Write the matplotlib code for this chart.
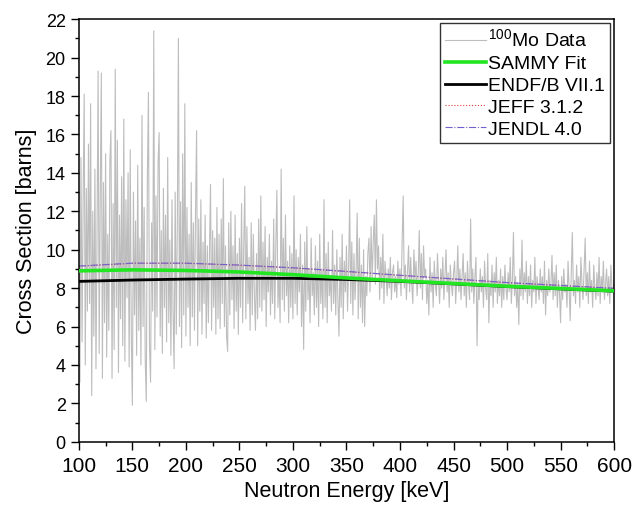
import matplotlib
matplotlib.use("Agg")
import matplotlib.pyplot as plt
import numpy as np
from matplotlib.ticker import MultipleLocator

plt.rcParams['font.family'] = ['Liberation Sans', 'DejaVu Sans']
plt.rcParams['mathtext.fontset'] = 'custom'
plt.rcParams['mathtext.rm'] = 'Liberation Sans'

data_start = 100
data_xs = [
    10.5, 3.1, 14.8, 5.2, 12.5, 18.1, 4.0, 13.2, 6.8, 15.5,
    7.2, 17.6, 2.4, 12.0, 5.5, 14.2, 3.8, 11.0, 19.3, 4.6,
    12.8, 19.2, 3.3, 13.5, 6.2, 15.0, 4.4, 10.8, 5.8, 14.6,
    16.2, 3.3, 12.4, 4.8, 19.4, 7.0, 15.7, 3.6, 11.8, 6.4,
    13.8, 5.0, 16.8, 4.2, 12.6, 7.5, 14.0, 3.9, 15.2, 5.6,
    1.9, 13.0, 6.6, 11.5, 4.5, 14.4, 5.8, 10.6, 4.0, 17.0,
    6.0, 12.2, 4.3, 2.1, 13.6, 18.2, 5.0, 3.1, 11.4, 6.8,
    21.4, 4.8, 12.8, 6.5, 14.5, 16.1, 5.5, 11.0, 4.6, 13.2,
    7.0, 11.8, 5.2, 14.8, 6.2, 10.5, 4.5, 12.6, 6.8, 3.8,
    13.0, 5.6, 11.2, 21.0, 6.0, 12.5, 4.9, 15.0, 6.6, 17.6,
    5.5, 12.2, 7.0, 10.8, 5.0, 13.5, 6.5, 11.4, 5.8, 12.0,
    16.2, 5.0, 11.6, 6.8, 12.6, 5.6, 10.4, 7.2, 11.8, 5.4,
    10.2, 6.2, 9.8, 13.4, 5.8, 11.0, 7.0, 10.6, 5.6, 12.2,
    6.4, 10.8, 5.9, 11.6, 7.2, 13.7, 6.0, 10.2, 5.5, 4.7,
    11.4, 6.6, 12.0, 7.4, 10.2, 5.9, 11.8, 6.8, 9.8, 5.6,
    10.6, 7.0, 12.4, 6.2, 10.0, 13.3, 6.4, 11.2, 7.2, 9.6,
    5.8, 11.4, 6.6, 10.8, 7.6, 5.8, 9.8, 6.4, 11.6, 7.0,
    12.8, 6.8, 10.4, 7.4, 11.2, 6.0, 9.6, 7.8, 10.8, 6.6,
    9.4, 7.2, 11.6, 6.4, 10.2, 13.1, 7.0, 8.8, 6.2, 14.2,
    7.4, 10.6, 6.8, 11.8, 7.6, 9.4, 6.2, 10.2, 7.0, 9.8,
    6.4, 12.8, 7.2, 10.0, 6.6, 9.6, 7.8, 10.8, 6.0, 9.2,
    4.8, 10.4, 6.8, 11.2, 7.4, 9.0, 6.2, 10.6, 7.6, 8.8,
    6.6, 10.2, 7.0, 9.4, 6.0, 10.8, 7.2, 9.0, 6.4, 12.6,
    7.0, 9.8, 6.2, 10.4, 7.6, 8.6, 6.8, 11.0, 7.2, 9.2,
    6.6, 10.0, 7.4, 5.5, 9.6, 7.0, 10.8, 6.4, 9.4, 7.8,
    10.2, 6.8, 9.0, 12.6, 7.2, 10.4, 6.6, 9.8, 7.4, 8.8,
    11.9, 6.4, 10.6, 7.0, 9.2, 6.2, 10.0, 6.0, 8.6, 7.6,
    9.8, 10.6, 7.8, 11.2, 8.4, 10.4, 11.8, 8.2, 12.6, 9.0,
    10.2, 7.4, 9.6, 8.0, 10.8, 7.2, 9.4, 8.6, 7.6, 9.0,
    8.0, 9.6, 7.4, 8.8, 9.2, 7.8, 8.6, 7.5, 9.4, 8.2,
    9.0, 7.6, 10.4, 12.8, 8.0, 9.2, 7.4, 8.8, 10.2, 7.8,
    9.6, 8.2, 7.2, 10.0, 8.4, 9.4, 7.6, 8.6, 11.0, 8.0,
    9.8, 7.4, 10.2, 8.6, 9.0, 7.2, 8.4, 6.6, 9.6, 7.8,
    8.8, 7.0, 9.4, 8.2, 7.6, 9.8, 8.4, 7.2, 9.0, 8.0,
    9.6, 7.4, 8.6, 10.0, 7.8, 8.8, 7.0, 9.2, 8.2, 7.6,
    8.8, 9.4, 7.2, 8.4, 10.2, 7.8, 9.0, 7.4, 8.6, 9.8,
    7.6, 8.8, 7.0, 9.4, 8.2, 7.4, 11.6, 7.8, 9.0, 7.2,
    8.6, 9.6, 5.0, 8.2, 7.4, 9.0, 7.8, 8.6, 7.0, 9.4,
    8.0, 7.4, 9.8, 6.2, 8.4, 7.6, 9.2, 7.0, 8.8, 7.8,
    9.6, 7.2, 8.4, 7.6, 9.0, 7.0, 8.6, 7.4, 9.2, 8.0,
    7.4, 8.8, 7.8, 9.6, 7.2, 8.4, 10.9, 7.6, 8.6, 7.0,
    8.2, 6.1, 9.0, 7.6, 10.5, 7.4, 8.8, 7.8, 9.4, 7.2,
    8.6, 7.6, 9.2, 7.0, 8.4, 7.8, 9.6, 7.2, 8.6, 8.0,
    7.4, 9.0, 7.8, 8.6, 7.2, 9.4, 6.6, 8.4, 7.6, 9.0,
    7.8, 8.2, 9.7, 7.4, 8.8, 7.6, 9.2, 7.0, 8.4, 7.8,
    6.2, 8.6, 7.4, 9.0, 7.8, 8.2, 7.0, 9.4, 8.0, 6.3,
    8.8, 10.9, 7.6, 8.4, 7.2, 9.2, 7.8, 8.6, 7.0, 9.6,
    8.2, 7.4, 9.0, 10.6, 7.6, 8.8, 7.2, 9.4, 7.8, 8.4,
    7.0, 9.2, 8.0, 7.4, 8.8, 7.6, 9.6, 7.2, 8.6, 7.8,
    9.4, 7.4, 8.2, 9.0, 7.6, 8.6, 7.2, 9.2, 8.0, 7.8,
    8.4,
]
data_energy = data_start + np.arange(len(data_xs))

# evaluated / fitted curves
curve_energy = [100, 150, 200, 250, 300, 350, 400, 450, 500, 550, 600]
sammy = [8.90, 8.95, 8.92, 8.84, 8.70, 8.53, 8.38, 8.24, 8.10, 7.98, 7.86]
endf = [8.35, 8.42, 8.47, 8.51, 8.51, 8.45, 8.35, 8.22, 8.08, 7.96, 7.84]
jeff = [9.14, 9.29, 9.29, 9.19, 9.05, 8.86, 8.66, 8.47, 8.28, 8.13, 7.98]
jendl = [9.15, 9.30, 9.30, 9.20, 9.06, 8.87, 8.67, 8.48, 8.29, 8.14, 7.99]

fig = plt.figure(figsize=(6.41, 5.06), dpi=100)
ax = fig.add_axes([0.123, 0.125, 0.835, 0.835])

ax.plot(data_energy, data_xs, color="#bdbdbd", lw=0.8, label=r"$^{100}$Mo Data", zorder=1)
ax.plot(curve_energy, sammy, color="#22e622", lw=2.6, label="SAMMY Fit", zorder=4)
ax.plot(curve_energy, endf, color="black", lw=2.0, label="ENDF/B VII.1", zorder=3)
ax.plot(curve_energy, jeff, color="#e04040", lw=0.8, ls=":", label="JEFF 3.1.2", zorder=2)
ax.plot(curve_energy, jendl, color="#7060d0", lw=0.8, ls="-.", label="JENDL 4.0", zorder=2)

ax.set_xlim(100, 600)
ax.set_ylim(0, 22)
ax.xaxis.set_major_locator(MultipleLocator(50))
ax.xaxis.set_minor_locator(MultipleLocator(25))
ax.yaxis.set_major_locator(MultipleLocator(2))
ax.yaxis.set_minor_locator(MultipleLocator(1))
ax.tick_params(which="both", direction="out", top=False, right=False)
ax.tick_params(which="major", length=6, width=1.0)
ax.tick_params(which="minor", length=3, width=1.0)
ax.tick_params(axis="x", labelsize=15, pad=4)
ax.tick_params(axis="y", labelsize=13)
for s in ax.spines.values():
    s.set_linewidth(1.1)

ax.set_xlabel("Neutron Energy [keV]", fontsize=15.5, labelpad=4)
ax.set_ylabel("Cross Section [barns]", fontsize=15.5, labelpad=6)

leg = ax.legend(loc="upper right", fontsize=14, frameon=True, fancybox=False,
                edgecolor="black", handlelength=2.1, handletextpad=0.15,
                borderaxespad=0.2, labelspacing=0.22, borderpad=0.25)
leg.get_frame().set_linewidth(1.0)

fig.savefig("out.png", dpi=100)
